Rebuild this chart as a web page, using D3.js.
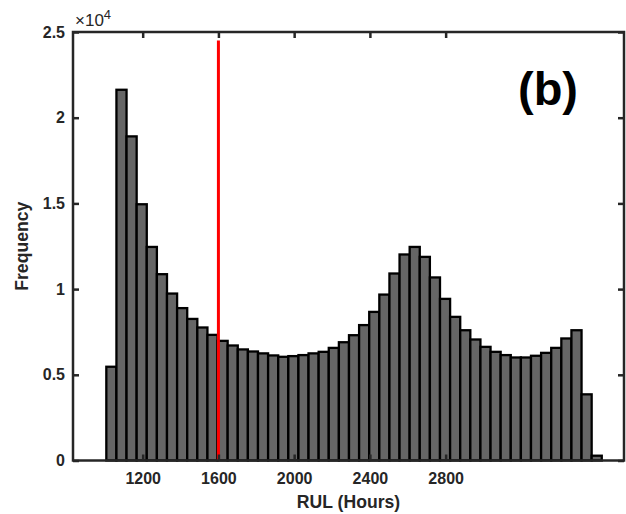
<!DOCTYPE html>
<html>
<head>
<meta charset="utf-8">
<script src="https://cdn.jsdelivr.net/npm/d3@7"></script>
<style>
  body { margin: 0; background: #fff; }
  text { font-family: Arial, "Liberation Sans", sans-serif; }
</style>
</head>
<body>
<div id="chart"></div>
<script>
// histogram counts (units of 1e4)
var counts = [0.547, 2.163, 1.891, 1.495, 1.246, 1.087, 0.974, 0.889, 0.826, 0.776,
  0.733, 0.698, 0.671, 0.648, 0.636, 0.625, 0.613, 0.605, 0.609, 0.615,
  0.625, 0.634, 0.657, 0.690, 0.731, 0.790, 0.867, 0.968, 1.091, 1.202,
  1.246, 1.188, 1.068, 0.943, 0.838, 0.760, 0.706, 0.663, 0.634, 0.615,
  0.601, 0.601, 0.611, 0.628, 0.657, 0.712, 0.760, 0.386, 0.028];
var binStart = 1008;
var binWidth = 53.4;
var xTicks = [1200, 1600, 2000, 2400, 2800];
var yTicks = [0, 0.5, 1, 1.5, 2, 2.5];
var xDomain = [832, 3742];
var yDomain = [0, 2.5];
var thresholdX = 1600;
var thresholdTop = 2.45;

var W = 626, H = 514;
var margin = {top: 32, right: 2, bottom: 53.5, left: 73};
var width = W - margin.left - margin.right,
    height = H - margin.top - margin.bottom;

var bins = counts.map(function(c, i) {
  return {x0: binStart + i * binWidth, x1: binStart + (i + 1) * binWidth, v: c};
});

var x = d3.scaleLinear().domain(xDomain).range([0, width]);
var y = d3.scaleLinear().domain(yDomain).range([height, 0]);

var svg = d3.select("#chart").append("svg")
    .attr("width", W)
    .attr("height", H)
  .append("g")
    .attr("transform", "translate(" + margin.left + "," + margin.top + ")");

// bars
svg.selectAll("rect.bar")
  .data(bins)
  .enter().append("rect")
    .attr("class", "bar")
    .attr("x", function(d) { return x(d.x0); })
    .attr("y", function(d) { return y(d.v); })
    .attr("width", function(d) { return x(d.x1) - x(d.x0); })
    .attr("height", function(d) { return y(0) - y(d.v); })
    .style("fill", "#666666")
    .style("stroke", "#000")
    .style("stroke-width", 2.3);

// red threshold line
svg.append("line")
  .attr("x1", x(thresholdX)).attr("x2", x(thresholdX))
  .attr("y1", y(0)).attr("y2", y(thresholdTop))
  .style("stroke", "#ff0000")
  .style("stroke-width", 3);

var fmtY = function(d) { return d === 0 ? "0" : d3.format("")(d); };

function styleAxis(g, showText) {
  g.select(".domain").remove();
  g.selectAll(".tick line").style("stroke", "#262626").style("stroke-width", 2.5);
  g.selectAll("text")
    .style("font-size", "16px")
    .style("font-weight", "bold")
    .style("fill", "#262626")
    .style("display", showText ? null : "none");
}

// axes, ticks pointing inward
svg.append("g")
  .attr("transform", "translate(0," + height + ")")
  .call(d3.axisBottom(x).tickValues(xTicks).tickSize(-6).tickPadding(12).tickFormat(d3.format("")))
  .call(styleAxis, true);

svg.append("g")
  .call(d3.axisTop(x).tickValues(xTicks).tickSize(-6))
  .call(styleAxis, false);

svg.append("g")
  .call(d3.axisLeft(y).tickValues(yTicks).tickSize(-6).tickPadding(8).tickFormat(fmtY))
  .call(styleAxis, true);

svg.append("g")
  .attr("transform", "translate(" + width + ",0)")
  .call(d3.axisRight(y).tickValues(yTicks).tickSize(-6))
  .call(styleAxis, false);

// box
svg.append("rect")
  .attr("x", 0).attr("y", 0)
  .attr("width", width).attr("height", height)
  .style("fill", "none")
  .style("stroke", "#262626")
  .style("stroke-width", 2.5);

// exponent label
var ex = svg.append("text")
  .attr("x", 2)
  .attr("y", -6)
  .style("font-size", "17px")
  .style("fill", "#262626")
  .text("\u00d710");
ex.append("tspan")
  .attr("dy", "-7")
  .style("font-size", "13px")
  .text("4");

// axis labels
svg.append("text")
  .attr("text-anchor", "middle")
  .attr("transform", "translate(" + (width / 2) + "," + (height + 47) + ")")
  .style("font-size", "17.6px")
  .style("font-weight", "bold")
  .style("fill", "#262626")
  .text("RUL (Hours)");

svg.append("text")
  .attr("text-anchor", "middle")
  .attr("transform", "translate(" + (-45) + "," + (height / 2) + ")rotate(-90)")
  .style("font-size", "17.6px")
  .style("font-weight", "bold")
  .style("fill", "#262626")
  .text("Frequency");

// panel tag
svg.append("text")
  .attr("text-anchor", "middle")
  .attr("x", 548 - margin.left)
  .attr("y", 105 - margin.top)
  .style("font-size", "47px")
  .style("font-weight", "bold")
  .style("fill", "#000")
  .text("(b)");
</script>
</body>
</html>
